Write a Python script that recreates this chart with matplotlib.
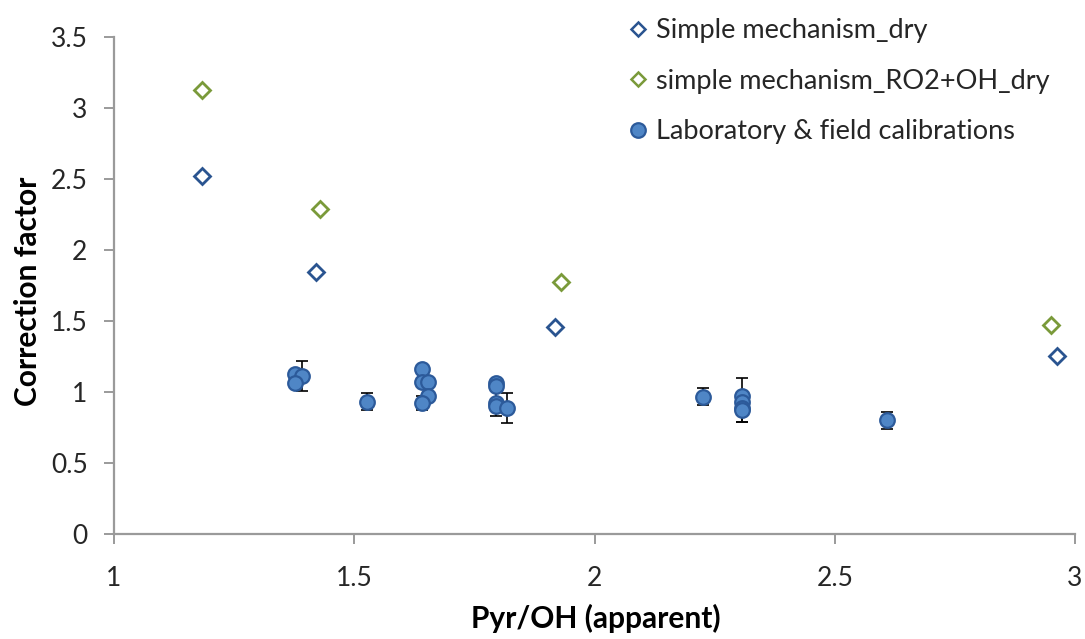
import matplotlib
matplotlib.use("Agg")
import matplotlib.pyplot as plt
from matplotlib.lines import Line2D

plt.rcParams['font.family'] = ['Lato', 'DejaVu Sans']

# Simple mechanism, dry
sim_x = [1.183, 1.420, 1.918, 2.962]
sim_y = [2.521, 1.845, 1.458, 1.254]

# Simple mechanism with RO2+OH, dry
ro2_x = [1.183, 1.429, 1.930, 2.950]
ro2_y = [3.127, 2.289, 1.775, 1.472]

# Laboratory & field calibrations (with uncertainties)
lab_x = [1.377, 1.391, 1.377, 1.527, 1.640, 1.640, 1.653, 1.653, 1.640,
         1.795, 1.795, 1.795, 1.795, 1.818, 2.225, 2.306, 2.306, 2.306,
         2.306, 2.608]
lab_y = [1.13, 1.11, 1.06, 0.93, 1.16, 1.07, 1.07, 0.97, 0.92,
         1.06, 1.04, 0.92, 0.90, 0.89, 0.965, 0.97, 0.93, 0.89,
         0.87, 0.80]
lab_err = [0.02, 0.105, 0.02, 0.06, 0.02, 0.02, 0.02, 0.03, 0.05,
           0.02, 0.02, 0.09, 0.02, 0.105, 0.06, 0.13, 0.02, 0.10,
           0.08, 0.06]

x_ticks = [1, 1.5, 2, 2.5, 3]
x_tick_labels = ["1", "1.5", "2", "2.5", "3"]
y_ticks = [0, 0.5, 1, 1.5, 2, 2.5, 3, 3.5]
y_tick_labels = ["0", "0.5", "1", "1.5", "2", "2.5", "3", "3.5"]

blue_dk = "#2A5490"
green = "#7A9A3A"
fill_blue = "#4F86C6"
edge_blue = "#2C5A9A"
axis_gray = "#9A9A9A"
text_col = "#262626"

fig = plt.figure(figsize=(10.85, 6.39), dpi=100)
ax = fig.add_axes([114 / 1085, 1 - 534 / 639, (1075 - 114) / 1085, (534 - 37) / 639])

ax.errorbar(lab_x, lab_y, yerr=lab_err, fmt='none', ecolor='black',
            elinewidth=1.2, capsize=4.5, capthick=1.2, zorder=2)
ax.plot(lab_x, lab_y, 'o', ms=10.5, mfc=fill_blue, mec=edge_blue, mew=1.6,
        ls='none', zorder=3)
ax.plot(sim_x, sim_y, 'D', ms=8.5, mfc='white', mec=blue_dk, mew=2,
        ls='none', zorder=4)
ax.plot(ro2_x, ro2_y, 'D', ms=8.5, mfc='white', mec=green, mew=2,
        ls='none', zorder=4)

ax.set_xlim(1, 3)
ax.set_ylim(0, 3.5)
ax.set_xticks(x_ticks)
ax.set_xticklabels(x_tick_labels)
ax.set_yticks(y_ticks)
ax.set_yticklabels(y_tick_labels)

for side in ('top', 'right'):
    ax.spines[side].set_visible(False)
for side in ('left', 'bottom'):
    ax.spines[side].set_color(axis_gray)
    ax.spines[side].set_linewidth(1.6)

ax.tick_params(axis='both', colors=axis_gray, labelcolor=text_col,
               labelsize=19, length=7, width=1.4, direction='out')
ax.tick_params(axis='x', pad=16)
ax.tick_params(axis='y', pad=12)

ax.set_xlabel("Pyr/OH (apparent)", fontsize=21.5, fontweight='bold', color='black')
ax.xaxis.set_label_coords(0.5016, -0.169)
ax.xaxis.label.set_va('center')
ax.set_ylabel("Correction factor", fontsize=21.5, fontweight='bold', color='black')
ax.yaxis.set_label_coords(-0.0895, 0.489)
ax.yaxis.label.set_va('center')

handles = [
    Line2D([], [], marker='D', ls='none', ms=7, mfc='white', mec=blue_dk, mew=1.8),
    Line2D([], [], marker='D', ls='none', ms=7, mfc='white', mec=green, mew=1.8),
    Line2D([], [], marker='o', ls='none', ms=10.5, mfc=fill_blue, mec=edge_blue, mew=1.6),
]
labels = ["Simple mechanism_dry", "simple mechanism_RO2+OH_dry",
          "Laboratory & field calibrations"]
fig.legend(handles, labels, loc='upper left', bbox_to_anchor=(630 / 1085, 1 - 18 / 639),
           frameon=False, fontsize=19.5, handlelength=0.6, handletextpad=0.35,
           labelspacing=0.95, borderaxespad=0, borderpad=0,
           labelcolor=text_col)

fig.savefig("out.png", dpi=100, facecolor='white')
